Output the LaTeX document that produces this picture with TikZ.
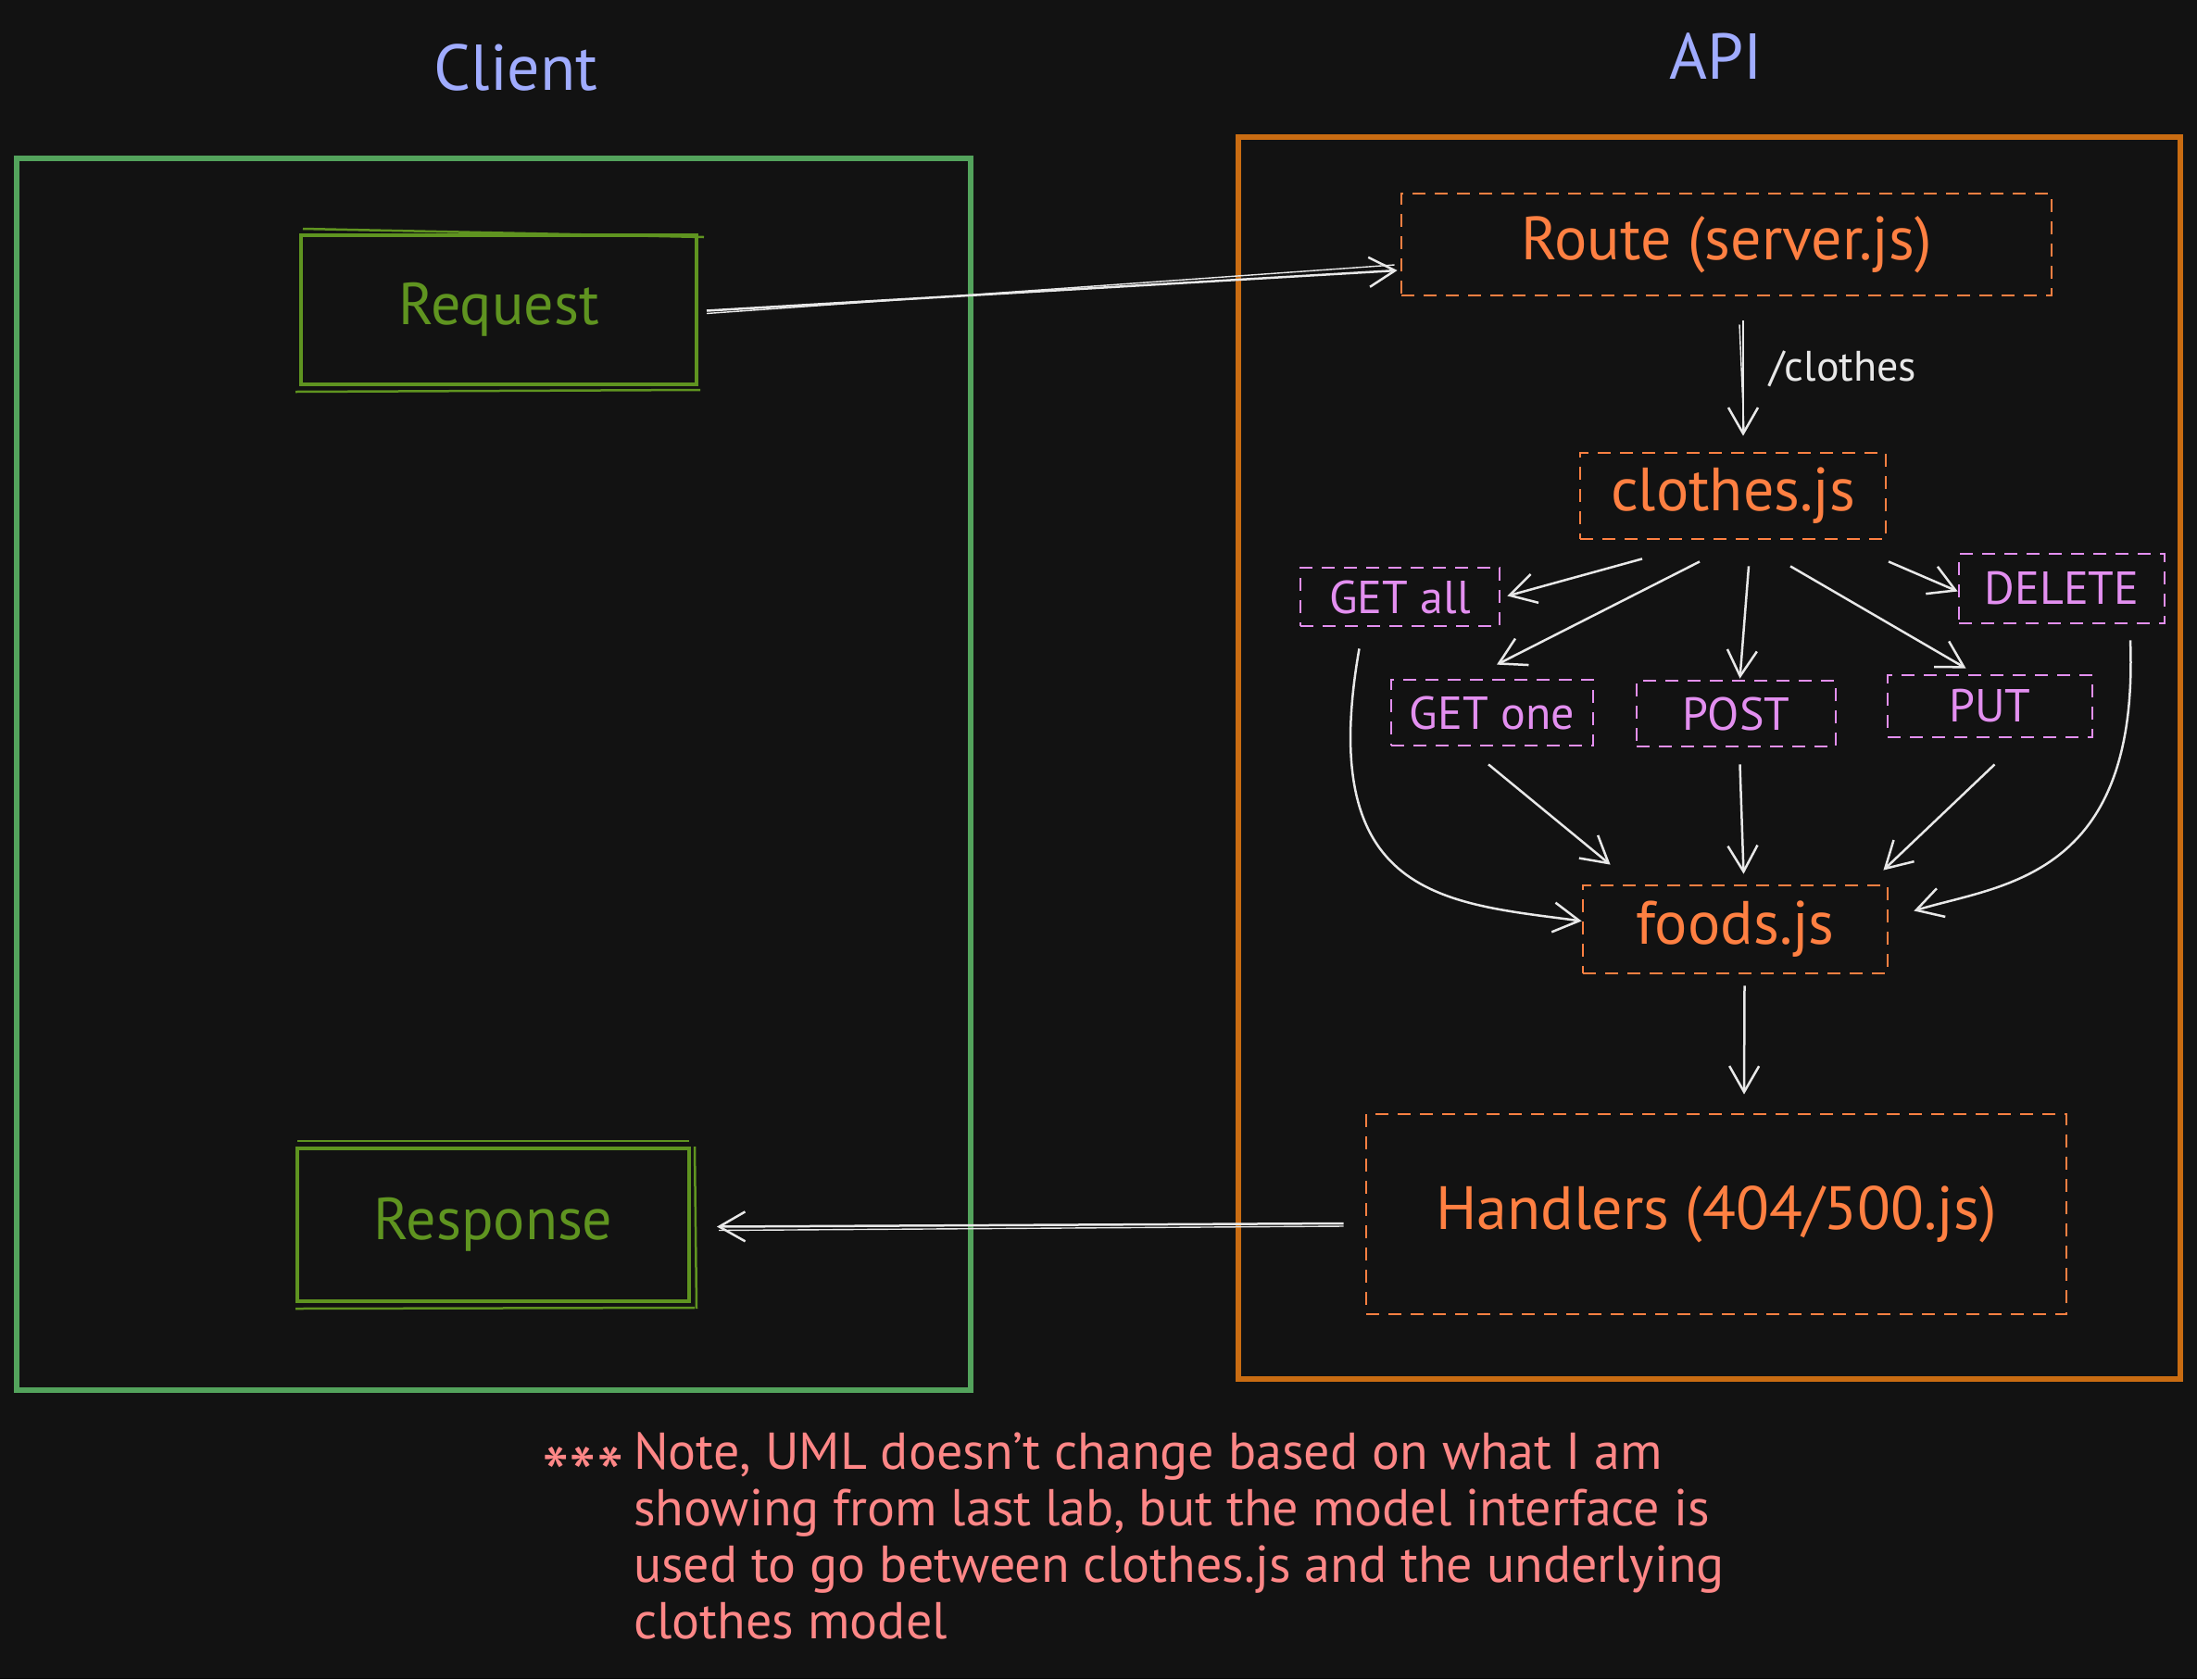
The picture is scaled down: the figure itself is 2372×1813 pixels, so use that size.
\documentclass[tikz,border=0pt]{standalone}
\usepackage{fontspec}
\setmainfont{PT Sans}
\usetikzlibrary{arrows.meta,calc}
\definecolor{bg}{HTML}{121212}
\definecolor{titleblue}{HTML}{A0ACFF}
\definecolor{framegreen}{HTML}{53A35C}
\definecolor{boxgreen}{HTML}{5F9420}
\definecolor{frameorange}{HTML}{C96C12}
\definecolor{dashorange}{HTML}{FF8042}
\definecolor{violet}{HTML}{E38FF0}
\definecolor{arrowwhite}{HTML}{E8E8E8}
\definecolor{salmon}{HTML}{FF8787}
\tikzset{
  title/.style={text=titleblue, font=\fontsize{70}{80}\selectfont},
  frame/.style={draw, line width=6pt, rectangle, inner sep=0pt},
  greenbox/.style={draw=boxgreen, line width=4pt, text=boxgreen, inner sep=0pt, font=\fontsize{64}{72}\selectfont},
  orangebox/.style={draw=dashorange, line width=2.8pt, dash pattern=on 14pt off 10pt, text=dashorange, inner sep=0pt, font=\fontsize{66}{72}\selectfont},
  methodbox/.style={draw=violet, line width=2.8pt, dash pattern=on 14pt off 10pt, text=violet, inner sep=0pt, font=\fontsize{50}{60}\selectfont},
  arr/.style={draw=arrowwhite, line width=2.5pt, -{Straight Barb[length=28pt,width=32pt,line width=2.5pt]}},
  arrthin/.style={draw=arrowwhite, line width=1.4pt},
  notetext/.style={text=salmon, font=\fontsize{56}{61}\selectfont},
}
\begin{document}
\begin{tikzpicture}[x=1pt,y=-1pt]
\fill[bg] (0,0) rectangle (2372,1813);
\useasboundingbox (0,0) rectangle (2372,1813);

% titles
\node[title] (clientlbl) at (557,73) {Client};
\node[title] (apilbl) at (1853,61) {API};

% frames
\node[frame, draw=framegreen, minimum width=1030pt, minimum height=1330pt] (clientframe) at (533,836) {};
\node[frame, draw=frameorange, minimum width=1017pt, minimum height=1341pt] (apiframe) at (1845.5,818.5) {};

% client boxes
\node[greenbox, minimum width=427pt, minimum height=161pt] (req) at (538.5,334.5) {Request};
\draw[boxgreen, line width=2.5pt] ($(req.north west)+(4,-5)$) -- ($(req.north east)+(6,4)$);
\draw[boxgreen, line width=2.5pt] ($(req.south west)+(-4,6)$) -- ($(req.south east)+(2,4)$);
\node[greenbox, minimum width=423pt, minimum height=165pt] (resp) at (532.5,1322.5) {Response};
\draw[boxgreen, line width=2.5pt] ($(resp.north west)+(2,-6)$) -- ($(resp.north east)+(-2,-6)$);
\draw[boxgreen, line width=2.5pt] ($(resp.south west)+(0,6)$) -- ($(resp.south east)+(4,5)$);
\draw[boxgreen, line width=2.5pt] ($(resp.north east)+(4,0)$) -- ($(resp.south east)+(6,6)$);

% api boxes
\node[orangebox, minimum width=702pt, minimum height=110pt] (route) at (1864,264) {Route (server.js)};
\node[orangebox, minimum width=330pt, minimum height=93pt] (clothes) at (1871,535.5) {clothes.js};
\node[methodbox, minimum width=215pt, minimum height=63pt] (getall) at (1511.5,644.5) {GET all};
\node[methodbox, minimum width=222pt, minimum height=75pt] (delete) at (2226,635.5) {DELETE};
\node[methodbox, minimum width=218pt, minimum height=71pt] (getone) at (1611,769.5) {GET one};
\node[methodbox, minimum width=215pt, minimum height=71pt] (post) at (1874.5,770.5) {POST};
\node[methodbox, minimum width=221pt, minimum height=67pt] (put) at (2148.5,762.5) {PUT};
\node[orangebox, minimum width=329pt, minimum height=95pt] (foods) at (1873.5,1003.5) {foods.js};
\node[orangebox, minimum width=756pt, minimum height=216pt] (handlers) at (1853,1311) {Handlers (404/500.js)};

% connectors
\draw[arr] ($(req.east)+(9,1)$) -- ($(route.west)+(-3,28)$);
\draw[arrthin] ($(req.east)+(9,4)$) -- ($(route.west)+(-6,22)$);
\draw[arr] ($(handlers.west)+(-23,10)$) -- ($(resp.east)+(28,2)$);
\draw[arrthin] ($(handlers.west)+(-23,13)$) -- ($(resp.east)+(30,6)$);

\draw[arr] ($(route.south)+(18,26)$) -- node[right, xshift=24pt, yshift=10pt, text=arrowwhite, font=\fontsize{46}{54}\selectfont] (routelbl) {/clothes} ($(clothes.north)+(11,-17)$);
\draw[arrthin] ($(route.south)+(14,30)$) -- ($(clothes.north)+(12,-22)$);

\draw[arr] ($(clothes.south)+(-98,20)$) -- ($(getall.east)+(7,-1)$);
\draw[arr] ($(clothes.south)+(-36,23)$) -- ($(getone.north)+(5,-15)$);
\draw[arr] ($(clothes.south)+(17,28)$) -- ($(post.north)+(4,-1)$);
\draw[arr] ($(clothes.south)+(62,28)$) -- ($(put.north)+(-26,-6)$);
\draw[arr] ($(clothes.south)+(168,23)$) -- ($(delete.west)+(0,3)$);

\draw[arr] ($(getone.south)+(-4,19)$) -- ($(foods.north west)+(31,-21)$);
\draw[arr] ($(post.south)+(4,18)$) -- ($(foods.north)+(9,-11)$);
\draw[arr] ($(put.south)+(5,28)$) -- ($(foods.north east)+(-6,-15)$);

\draw[arr] ($(getall.south)+(-44,23)$) .. controls (1420,970) and (1560,975) .. ($(foods.west)+(0,-9)$);
\draw[arr] ($(delete.south)+(74,17)$) .. controls (2310,950) and (2160,955) .. ($(foods.east)+(27,-20)$);

\draw[arr] ($(foods.south)+(10,12)$) -- ($(handlers.north)+(30,-20)$);

% note
\node[notetext, font=\fontsize{84}{84}\selectfont, anchor=west, inner sep=0pt] (stars) at (585,1592) {***};
\node[notetext, anchor=north west, align=left, inner sep=0pt] (note) at (684,1546) {Note, UML doesn't change based on what I am\\showing from last lab, but the model interface is\\used to go between clothes.js and the underlying\\clothes model};
\end{tikzpicture}
\end{document}
